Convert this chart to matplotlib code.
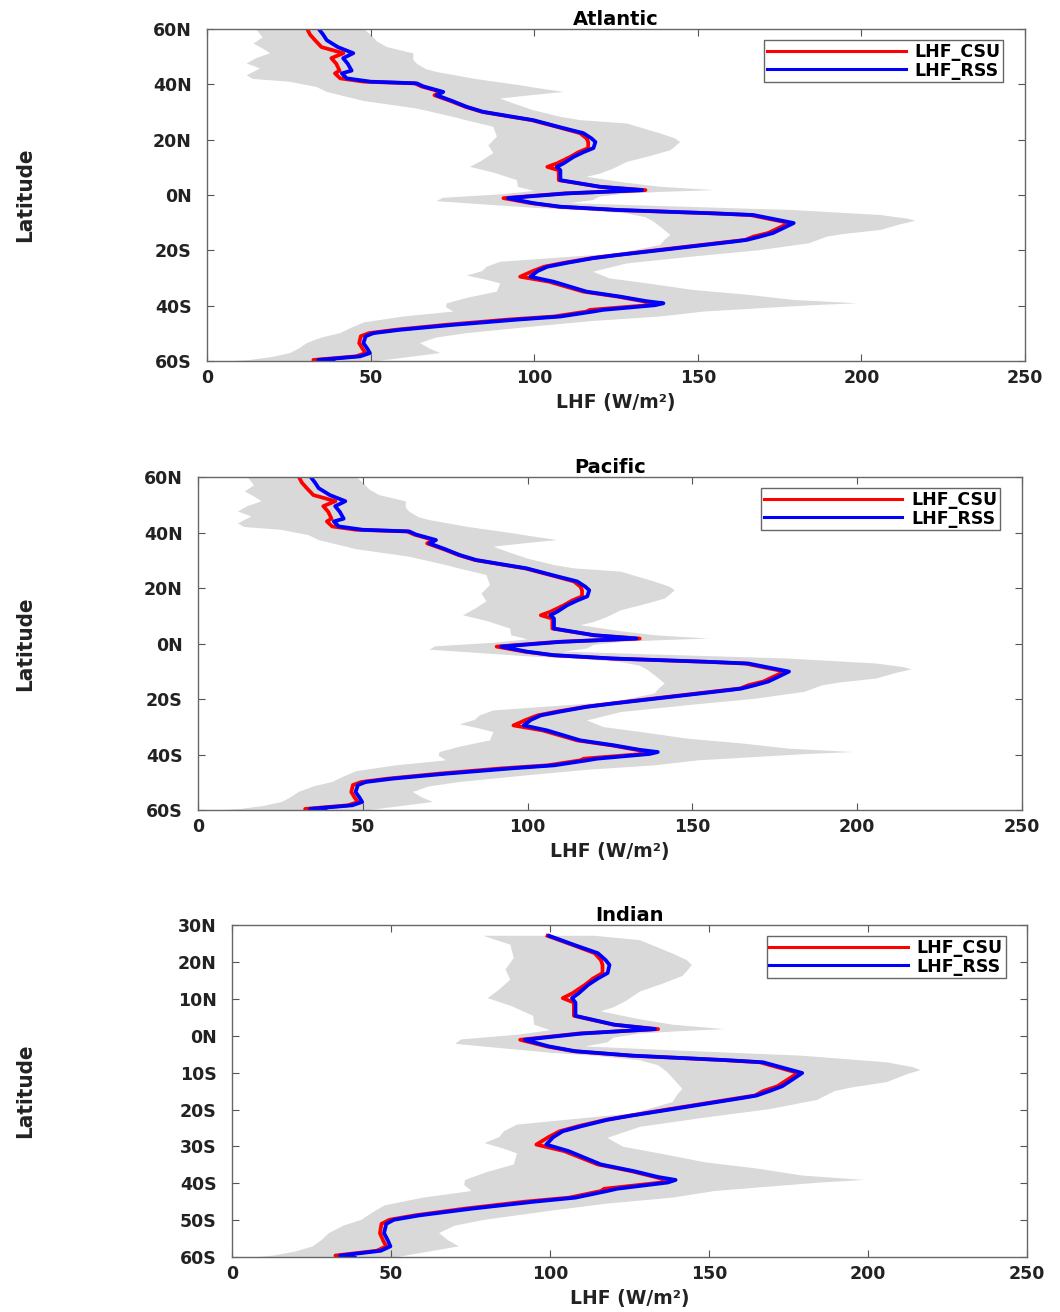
import matplotlib
matplotlib.use('Agg')

import numpy as np
import matplotlib.pyplot as plt

# mean LHF profiles (north -> south)
lat = np.array([60.3, 58, 56, 53.5, 51.3, 49.5, 47.5, 45, 44, 42.2, 41, 40.4, 39.3, 37.3,
                36.1, 34, 31.9, 30.1, 28.2, 27.1, 24.5, 22.4, 20.5, 19.2, 17, 15.5, 13.8,
                11.5, 10.2, 9, 5.4, 3, 1.8, 0.6, -1.1, -2.9, -4.2, -5.4, -6.6, -7.2, -10.1,
                -12, -13.7, -15, -16.2, -16.8, -19.9, -21.6, -22.8, -24.5, -25.9, -27.5,
                -29.5, -31.3, -34.9, -36.7, -38.3, -39.1, -39.8, -41.5, -42.1, -43.9, -45,
                -46.9, -48.7, -49.9, -51, -53.5, -55.5, -57.1, -58.3, -59.6, -60.2])
lhf_rss = np.array([34, 35.5, 36.6, 40, 44.7, 41.6, 43, 44.2, 41.2, 42.7, 50, 64.1, 66.1, 72.2,
                    70.2, 75, 79.4, 84.4, 94, 99.7, 108, 115, 117.5, 118.7, 118.1, 115, 112,
                    109, 106.9, 108, 108, 120.2, 133, 110, 92, 99.7, 108, 126, 155, 167, 179.3,
                    176, 173, 169, 165, 161, 138.5, 126, 118, 110, 104, 101,
                    98.8, 105.9, 116, 126.3, 134, 139.5, 137, 121, 118, 108, 95,
                    75.3, 59, 50.9, 48.5, 47.8, 49, 49.8, 46.8, 34, 38.6])
lhf_csu = np.array([30.5, 31.5, 33, 35, 41.7, 38, 39.5, 40.5, 39.1, 40.7, 48, 63.5, 65.5, 71.5,
                    69.5, 74.5, 79, 84, 93.5, 99.2, 107.5, 114, 116, 116.5, 116.5, 113.5, 111,
                    107, 104, 107.5, 107.5, 120, 134, 109, 90.6, 99, 107.5, 125.5, 154.5, 166, 178,
                    174.5, 171.5, 167, 164.5, 160, 137.5, 125.5, 117.5, 109, 103, 99.5,
                    95.7, 104.5, 115, 125.5, 133, 136.5, 135, 117, 116, 106, 92,
                    73, 57.5, 49.5, 47, 46.5, 47.5, 48.5, 45.5, 32.5, 37])

# spread (grey band) edges
lo_lat = np.array([60, 57, 54.8, 53, 51.3, 49.5, 47.6, 45.8, 43.3, 42, 41, 39.1, 37.3, 34, 31.3,
                   28.2, 27.1, 24.7, 21.1, 18, 15.2, 12.5, 10.2, 8, 5.4, 3, 1.5, 0.3, -1, -2.2,
                   -3, -3.8, -4.6, -5.5, -6.6, -8, -9.6, -11.4, -14.4, -16, -18, -21, -22.3,
                   -24.1, -25.9, -27.5, -29.1, -30.5, -31.9, -34.9, -37, -39.1, -40.5, -42.1,
                   -43.9, -46, -48, -49.9, -51.5, -53.5, -55.5, -57.1, -58.5, -59.6, -60])
lo_lhf = np.array([15, 17, 14.2, 17, 19.3, 15, 12.1, 16.2, 12.1, 14, 25, 33.5, 36.6, 48, 64.1,
                   75.5, 79, 87.5, 88.6, 86, 87.5, 84, 80.4, 88, 94.7, 95, 100, 90, 72, 70.2,
                   80, 90, 100, 115, 128, 134, 136.5, 138.5, 141.6, 140, 138.5, 126.3, 111,
                   89.6, 85.5, 84, 79.4, 85, 89.6, 88.6, 80, 73.3, 73, 75.3,
                   60, 48, 44, 40.7, 35, 30.5, 28, 25.4, 20, 13.1, 8])
hi_lat = np.array([60, 58, 55.5, 53.5, 51.2, 49, 47.5, 45.5, 44.5, 42, 39.7, 38.5, 37.3, 36,
                   34.9, 33, 30.7, 28.3, 27.1, 25.9, 22.3, 20.5, 19.2, 17.5, 16.2, 14, 12, 9.5,
                   7.8, 6.6, 4.5, 3, 1.8, 1.2, 0.6, -0.5, -1.8, -2.9, -4, -5.4, -7.2, -8.5,
                   -9.3, -10.5, -12.6, -14, -15, -17.4, -19.9, -22.2, -24.7, -27.7, -30.1, -32,
                   -34.3, -36, -37.9, -39.1, -39.8, -40.9, -42.1, -43.9, -45.5, -47.5, -49.9,
                   -51.5, -53.5, -55.5, -57.1, -58.5, -60])
hi_lhf = np.array([48, 50, 52, 55, 63.1, 63, 64.1, 67, 70.2, 82, 95.7, 102, 109, 98,
                   89.6, 94, 99.7, 108, 114, 128.3, 138.5, 143, 144.6, 143, 141.6, 135, 128.3, 124,
                   120.2, 116, 128, 138.5, 154.8, 140, 128.3, 120, 118, 111, 140, 179, 205.8, 214,
                   216.5, 212, 205.8, 195, 189.5, 184, 169, 148.6, 128.3, 118, 123, 135,
                   148.6, 165, 179.3, 198.7, 185, 169, 151.7, 138.5, 118, 99.7, 79.4,
                   70, 65.1, 68, 71.3, 62, 51.9])

# panel name, top latitude of data, y ticks, axes rect [l, b, w, h]
panels = [
    ('Atlantic', 90, [-60, -40, -20, 0, 20, 40, 60],
     ['60S', '40S', '20S', '0N', '20N', '40N', '60N'], [0.1953, 0.7248, 0.7717, 0.2530]),
    ('Pacific', 90, [-60, -40, -20, 0, 20, 40, 60],
     ['60S', '40S', '20S', '0N', '20N', '40N', '60N'], [0.1868, 0.3826, 0.7774, 0.2538]),
    ('Indian', 27.2, [-60, -50, -40, -30, -20, -10, 0, 10, 20, 30],
     ['60S', '50S', '40S', '30S', '20S', '10S', '0N', '10N', '20N', '30N'],
     [0.2189, 0.0419, 0.7500, 0.2530]),
]

fig = plt.figure(figsize=(10.6, 13.12), dpi=100)

for name, top, yt, ytl, rect in panels:
    ax = fig.add_axes(rect)
    m = lat <= top
    ml = lo_lat <= top
    mh = hi_lat <= top
    ax.fill(np.concatenate([hi_lhf[mh], lo_lhf[ml][::-1]]),
            np.concatenate([hi_lat[mh], lo_lat[ml][::-1]]),
            color='#d9d9d9', lw=0)
    ax.plot(lhf_csu[m], lat[m], color='red', lw=2.7, label='LHF_CSU')
    ax.plot(lhf_rss[m], lat[m], color='blue', lw=2.7, label='LHF_RSS')

    ax.set_xlim(0, 250)
    ax.set_ylim(yt[0], yt[-1])
    ax.set_xticks([0, 50, 100, 150, 200, 250])
    ax.set_yticks(yt)
    ax.set_yticklabels(ytl)
    ax.tick_params(direction='in', top=True, right=True, length=5, color='#555555',
                   labelsize=12.5)
    ax.tick_params(axis='x', pad=6)
    ax.tick_params(axis='y', pad=11)
    for lab in ax.get_xticklabels() + ax.get_yticklabels():
        lab.set_fontweight('bold')
        lab.set_color('#222222')
    for sp in ax.spines.values():
        sp.set_color('#666666')
        sp.set_linewidth(1.0)

    ax.set_title(name, fontsize=14, fontweight='bold', pad=3)
    ax.set_xlabel('LHF (W/m²)', fontsize=13.5, fontweight='bold', labelpad=4, color='#222222')
    ax.set_ylabel('Latitude', fontsize=16, fontweight='bold', fontstretch='condensed',
                  family=['Liberation Sans Narrow', 'DejaVu Sans'], color='#222222')
    l, b, w, h = rect
    ax.yaxis.set_label_coords((35 / 1060 - l) / w, 0.5)

    leg = ax.legend(loc='upper right', bbox_to_anchor=(0.973, 0.967), borderaxespad=0,
                    prop={'weight': 'bold', 'size': 12.5}, handlelength=8, fancybox=False,
                    framealpha=1, edgecolor='#666666', borderpad=0.15, labelspacing=0.05,
                    handletextpad=0.5)
    for ln in leg.get_lines():
        ln.set_linewidth(2.2)

fig.savefig('out.png', dpi=100)
